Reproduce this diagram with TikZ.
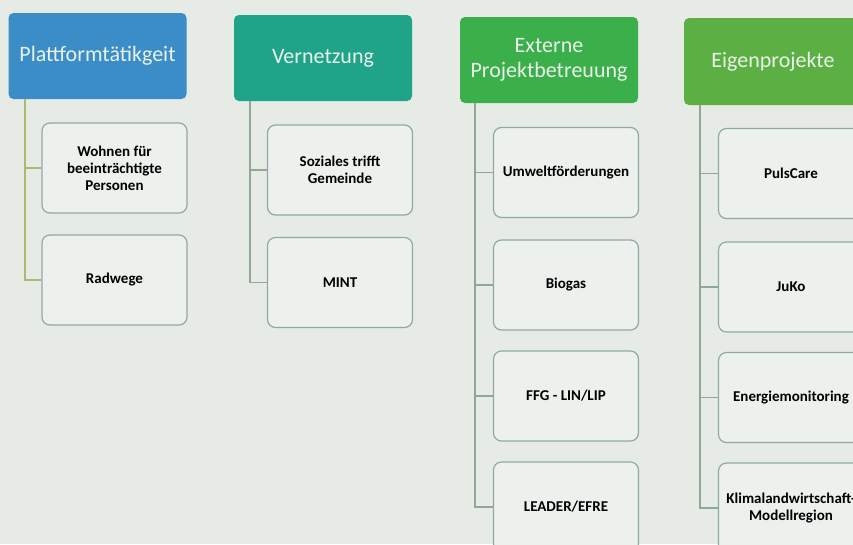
\documentclass[tikz,border=0pt]{standalone}
\usepackage{fontspec}
\setmainfont{Carlito}
\definecolor{bg}{HTML}{E6EBE6}
\definecolor{boxfill}{HTML}{EDF1ED}
\definecolor{boxline}{HTML}{8FAAA5}
\definecolor{connA}{HTML}{A9BA72}
\definecolor{connB}{HTML}{8FA896}
\definecolor{hblue}{HTML}{3B8DC8}
\definecolor{hteal}{HTML}{1FA489}
\definecolor{hgreen}{HTML}{3BAF4A}
\definecolor{hlime}{HTML}{5CB043}
\definecolor{htext}{HTML}{E9F1EA}
\begin{document}
\begin{tikzpicture}[x=1pt,y=-1pt,
  header/.style={rounded corners=5pt, minimum width=178pt, minimum height=86pt,
     text=htext, align=center, inner sep=0pt,
     font=\fontsize{22}{25}\selectfont},
  item/.style={draw=boxline, line width=1.2pt, fill=boxfill, rounded corners=8pt,
     minimum width=145pt, minimum height=90pt, align=center, inner sep=0pt,
     font=\bfseries\fontsize{15}{17}\selectfont},
  conn/.style={line width=1.1pt}]
\fill[bg] (0,0) rectangle (853,544);
\useasboundingbox (0,0) rectangle (853,544);
% headers
\node[header, fill=hblue] (h1) at (97.5,56) {Plattformtätikgeit};
\node[header, fill=hteal] (h2) at (323,58) {Vernetzung};
\node[header, fill=hgreen] (h3) at (549,60) {Externe\\Projektbetreuung};
\node[header, fill=hlime, minimum height=87pt] (h4) at (773,61.5) {Eigenprojekte};
% column 1
\node[item] (a1) at (114.5,168) {Wohnen für\\beeinträchtigte\\Personen};
\node[item] (a2) at (114.5,280) {Radwege};
% column 2
\node[item] (b1) at (340,170) {Soziales trifft\\Gemeinde};
\node[item] (b2) at (340,282.5) {MINT};
% column 3
\node[item] (c1) at (566,172.5) {Umweltförderungen};
\node[item] (c2) at (566,285) {Biogas};
\node[item] (c3) at (566,396) {FFG - LIN/LIP};
\node[item] (c4) at (566,507) {LEADER/EFRE};
% column 4
\node[item] (d1) at (791,173.5) {PulsCare};
\node[item] (d2) at (791,287) {JuKo};
\node[item] (d3) at (791,397.5) {Energiemonitoring};
\node[item] (d4) at (791,508) {Klimalandwirtschaft-\\Modellregion};
% connectors
\foreach \t in {a1,a2}
  \draw[conn, connA] ([xshift=-72.5]h1.south) |- (\t.west);
\foreach \t in {b1,b2}
  \draw[conn, connB] ([xshift=-73]h2.south) |- (\t.west);
\foreach \t in {c1,c2,c3,c4}
  \draw[conn, connB] ([xshift=-74]h3.south) |- (\t.west);
\foreach \t in {d1,d2,d3,d4}
  \draw[conn, connB] ([xshift=-73]h4.south) |- (\t.west);
\end{tikzpicture}
\end{document}
